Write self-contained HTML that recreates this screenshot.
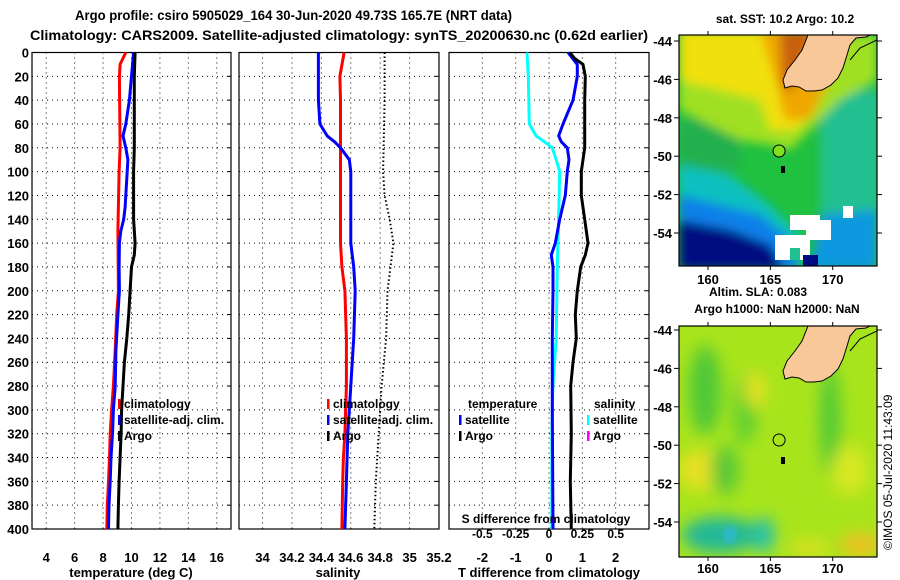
<!DOCTYPE html>
<html><head><meta charset="utf-8"><style>
html,body{margin:0;padding:0;background:#fff;}
svg{display:block;font-family:"Liberation Sans",Arial,sans-serif;font-weight:bold;}
</style></head><body>
<svg id="fig" width="900" height="580" viewBox="0 0 900 580" xmlns="http://www.w3.org/2000/svg">
<defs>
<filter id="blur4" x="-10%" y="-10%" width="120%" height="120%"><feGaussianBlur stdDeviation="5"/></filter>
<filter id="blur8" x="-20%" y="-20%" width="140%" height="140%"><feGaussianBlur stdDeviation="8"/></filter>
<clipPath id="clipMap1"><rect x="679" y="35" width="198" height="231"/></clipPath>
<clipPath id="clipMap2"><rect x="679" y="326" width="198" height="231"/></clipPath>
</defs>
<text x="75" y="20" font-size="14" textLength="437" lengthAdjust="spacingAndGlyphs">Argo profile: csiro 5905029_164 30-Jun-2020 49.73S 165.7E (NRT data)</text>
<text x="30" y="40" font-size="14" textLength="618" lengthAdjust="spacingAndGlyphs">Climatology: CARS2009. Satellite-adjusted climatology: synTS_20200630.nc (0.62d earlier)</text>
<g id="charts"></g>
<g id="maps"></g>
</svg>
<script>
// ---- data ----
const depthTicks = [0,20,40,60,80,100,120,140,160,180,200,220,240,260,280,300,320,340,360,380,400];
const tempTicks = [4,6,8,10,12,14,16];
const salTicks = [34,34.2,34.4,34.6,34.8,35,35.2];
const tdiffTicks = [-2,-1,0,1,2];
const sdiffTicks = [-0.5,-0.25,0,0.25,0.5];

const climTDepth = [0,10,20,80,100,150,200,220,250,280,300,320,340,360,380,400];
const climT =      [9.6,9.2,9.15,9.2,9.13,9.04,9.08,8.96,8.85,8.73,8.6,8.5,8.45,8.38,8.3,8.26];
const satTDepth = [0,20,40,60,70,80,90,100,130,140,150,160,180,200,220,250,280,300,320,340,360,380,400];
const satT =      [10.15,10.0,9.85,9.6,9.4,9.6,9.75,9.7,9.55,9.45,9.25,9.15,9.13,9.15,9.04,8.9,8.85,8.73,8.66,8.56,8.5,8.42,8.38];
const argoTDepth = [0,20,80,100,140,160,170,180,200,220,240,260,280,300,320,340,360,380,400];
const argoT =      [10.25,10.2,10.2,10.15,10.15,10.25,10.2,10.0,9.9,9.8,9.67,9.5,9.4,9.3,9.27,9.2,9.13,9.08,9.04];

const climSDepth = [0,20,40,80,160,180,200,240,280,320,340,360,400];
const climS =      [34.555,34.526,34.53,34.53,34.53,34.54,34.56,34.57,34.57,34.56,34.55,34.545,34.54];
const satSDepth = [0,40,60,70,75,80,90,100,160,180,200,240,280,320,360,400];
const satS =      [34.38,34.38,34.39,34.44,34.49,34.53,34.59,34.6,34.6,34.62,34.63,34.62,34.6,34.58,34.57,34.56];
const argoSDepth = [0,40,100,120,140,160,180,200,240,280,320,360,400];
const argoS =      [34.83,34.83,34.82,34.83,34.865,34.89,34.87,34.85,34.84,34.81,34.79,34.77,34.76];

const dTsatDepth = [0,10,20,40,60,70,75,80,90,100,120,140,160,170,180,200,240,300,400];
const dTsat =      [0.57,0.85,0.85,0.72,0.42,0.29,0.37,0.55,0.6,0.55,0.49,0.32,0.19,0.07,0.12,0.12,0.1,0.1,0.12];
const dTargoDepth = [0,5,10,20,40,80,100,120,140,160,170,180,200,220,240,260,280,320,360,400];
const dTargo =      [0.62,0.77,1.02,1.09,1.07,1.07,0.97,0.97,1.07,1.17,1.09,0.95,0.85,0.79,0.82,0.72,0.65,0.67,0.64,0.67];
const dSsatDepth = [0,20,60,70,75,80,90,100,140,160,180,240,260,280,320,400];
const dSsat =      [-0.165,-0.155,-0.148,-0.097,-0.034,0.024,0.054,0.08,0.072,0.067,0.062,0.054,0.042,0.029,0.021,0.021];

// ---- helpers ----
const NS='http://www.w3.org/2000/svg';
function mk(tag, attrs, parent, text){
  const e=document.createElementNS(NS,tag);
  for(const k in attrs) e.setAttribute(k,attrs[k]);
  if(text!==undefined) e.textContent=text;
  parent.appendChild(e); return e;
}
const charts=document.getElementById('charts');
const Y0=52.5, Y1=529;
const yScale = d => Y0 + d/400*(Y1-Y0);

function panel(name, x0, x1, dmin, dmax, xticks, fmt, showY){
  const g=mk('g',{},charts);
  
  
  const xs = v => x0 + (v-dmin)/(dmax-dmin)*(x1-x0);
  depthTicks.forEach(d=>{
    if(d===0||d===400) return;
    const l=mk('line',{x1:x0,x2:x1,y1:yScale(d),y2:yScale(d),stroke:'#000','stroke-width':1,'stroke-dasharray':'1 4'},g);
    
    
  });
  xticks.forEach(v=>{
    const x=xs(v); if(x<=x0+1||x>=x1-1) return;
    const l=mk('line',{x1:x,x2:x,y1:Y0,y2:Y1,stroke:'#000','stroke-width':1,'stroke-dasharray':'1 4'},g);
    
    
  });
  const r=mk('rect',{x:x0,y:Y0,width:x1-x0,height:Y1-Y0,fill:'none',stroke:'#000','stroke-width':1.2},g);
  
  
  xticks.forEach(v=>{
    const t=mk('text',{x:xs(v),y:562,'font-size':13,'text-anchor':'middle'},g,fmt(v));
    
    
  });
  if(showY){
    depthTicks.forEach(d=>{
      const t=mk('text',{x:x0-3,y:yScale(d)+5,'font-size':13,'text-anchor':'end'},g,String(d));
      
      
    });
  }
  depthTicks.forEach(d=>{
    mk('line',{x1:x1-4,x2:x1,y1:yScale(d),y2:yScale(d),stroke:'#000'},g);
  });
  return {g,xs};
}
function line(p, xsf, vals, depths, color, name, width, dash){
  const pts=vals.map((v,i)=>xsf(v).toFixed(1)+','+yScale(depths[i]).toFixed(1)).join(' ');
  const a={points:pts,fill:'none',stroke:color,'stroke-width':width||3,'stroke-linejoin':'round'};
  if(dash) a['stroke-dasharray']=dash;
  const e=mk('polyline',a,p);
  
  
}
function legend(p, x, y, color, label, name){
  const g=mk('g',{},p);
  
  
  mk('rect',{x:x,y:y-9,width:2.5,height:10,fill:color},g);
  mk('text',{x:x+6,y:y,'font-size':12},g,label);
}

const P1=panel('temperature-panel',32,231,3,17,tempTicks,v=>String(v),true);
line(P1.g,P1.xs,climT,climTDepth,'#ff0000','climatology-temperature-line');
line(P1.g,P1.xs,satT,satTDepth,'#0000ff','satellite-temperature-line');
line(P1.g,P1.xs,argoT,argoTDepth,'#000000','argo-temperature-line');
legend(P1.g,118,408,'#ff0000','climatology','legend-climatology');
legend(P1.g,118,424,'#0000ff','satellite-adj. clim.','legend-satellite');
legend(P1.g,118,440,'#000000','Argo','legend-argo');
mk('text',{x:131,y:577,'font-size':13,'text-anchor':'middle',},P1.g,'temperature (deg C)');

const P2=panel('salinity-panel',239,439,33.84,35.2,salTicks,v=>(v===34||v===35)?String(v):v.toFixed(1),false);
line(P2.g,P2.xs,climS,climSDepth,'#ff0000','climatology-salinity-line');
line(P2.g,P2.xs,satS,satSDepth,'#0000ff','satellite-salinity-line');
line(P2.g,P2.xs,argoS,argoSDepth,'#000000','argo-salinity-line',2,'1.5 2.5');
legend(P2.g,327,408,'#ff0000','climatology','legend-climatology-s');
legend(P2.g,327,424,'#0000ff','satellite-adj. clim.','legend-satellite-s');
legend(P2.g,327,440,'#000000','Argo','legend-argo-s');
mk('text',{x:338,y:577,'font-size':13,'text-anchor':'middle',},P2.g,'salinity');

const P3=panel('difference-panel',449,649,-3,3,tdiffTicks,v=>String(v),false);
const sxs = v => P3.xs(v*4);
line(P3.g,sxs,dSsat,dSsatDepth,'#00ffff','salinity-diff-satellite-line');
line(P3.g,P3.xs,dTsat,dTsatDepth,'#0000ff','temperature-diff-satellite-line');
line(P3.g,P3.xs,dTargo,dTargoDepth,'#000000','temperature-diff-argo-line');
mk('text',{x:468,y:408,'font-size':12,},P3.g,'temperature');
mk('text',{x:594,y:408,'font-size':12,},P3.g,'salinity');
legend(P3.g,459,424,'#0000ff','satellite','legend-t-satellite');
legend(P3.g,459,440,'#000000','Argo','legend-t-argo');
legend(P3.g,587,424,'#00ffff','satellite','legend-s-satellite');
legend(P3.g,587,440,'#ff00ff','Argo','legend-s-argo');
mk('text',{x:546,y:523,'font-size':12,'text-anchor':'middle',},P3.g,'S difference from climatology');
sdiffTicks.forEach(v=>{
  const t=mk('text',{x:sxs(v),y:538,'font-size':12,'text-anchor':'middle'},P3.g,String(v));
  
  
});
mk('text',{x:549,y:577,'font-size':13,'text-anchor':'middle',},P3.g,'T difference from climatology');

// ---- maps ----
const maps=document.getElementById('maps');
const latTicks=[-44,-46,-48,-50,-52,-54];
const lonTicks=[160,165,170];
function mapFrame(name, top, latTop44y){
  const g=mk('g',{},maps);
  
  
  const lonX = lon => 708 + (lon-160)*12.47;
  const latY = lat => latTop44y + (-44-lat)*19.2;
  return {g,lonX,latY,top};
}
const land = (dy)=>`M808,${35+dy} L802,${50+dy} L795,${60+dy} L787,${70+dy} L783,${80+dy} L785,${88+dy} L792,${86+dy} L799,${87+dy} L806,${91+dy} L814,${91+dy} L822,${90+dy} L831,${85+dy} L838,${78+dy} L843,${68+dy} L847,${55+dy} L850,${45+dy} L856,${38+dy} L866,${37+dy} L870,${35+dy} Z`;

const M1=mapFrame('sst-map',35,41);
{
  const c=mk('g',{'clip-path':'url(#clipMap1)'},M1.g);
  mk('rect',{x:679,y:35,width:198,height:231,fill:'#20c040'},c);
  const b=mk('g',{filter:'url(#blur4)'},c);
  mk('rect',{x:820,y:90,width:60,height:130,fill:'#20c090'},b);
  mk('rect',{x:679,y:120,width:60,height:50,fill:'#20b050'},b);
  mk('polygon',{points:'679,35 877,35 877,80 840,100 810,130 790,150 770,145 740,140 700,120 679,110',fill:'#a0e020'},b);
  mk('polygon',{points:'679,30 820,30 830,60 815,110 795,130 770,130 760,100 720,90 679,80',fill:'#f0e010'},b);
  mk('polygon',{points:'760,30 830,30 830,80 810,120 785,120 775,80',fill:'#f0a800'},b);
  mk('polygon',{points:'780,30 815,30 800,70 790,95 782,80',fill:'#c86010'},b);
  mk('polygon',{points:'679,165 730,175 770,205 800,235 800,270 679,270',fill:'#10c0c0'},b);
  mk('polygon',{points:'679,195 720,205 760,215 790,240 800,270 679,270',fill:'#1080e8'},b);
  mk('polygon',{points:'679,220 730,230 770,245 785,270 679,270',fill:'#000a80'},b);
  mk('polygon',{points:'820,215 877,210 877,270 810,270',fill:'#1098e0'},b);
  mk('rect',{x:790,y:215,width:30,height:15,fill:'#ffffff'},c);
  mk('rect',{x:806,y:220,width:25,height:20,fill:'#ffffff'},c);
  mk('rect',{x:775,y:235,width:35,height:25,fill:'#ffffff'},c);
  mk('rect',{x:843,y:206,width:10,height:12,fill:'#ffffff'},c);
  mk('rect',{x:790,y:248,width:10,height:12,fill:'#20c090'},c);
  mk('rect',{x:803,y:255,width:15,height:11,fill:'#000a80'},c);
  mk('path',{d:land(0),fill:'#f8c898',stroke:'#000','stroke-width':1},c);
  mk('path',{d:'M850,60 L860,48 L877,40',fill:'none',stroke:'#000'},c);
  mk('circle',{cx:M1.lonX(165.7),cy:M1.latY(-49.73),r:6,fill:'#80e020',stroke:'#000','stroke-width':1},c);
  mk('rect',{x:781,y:166,width:4,height:7,fill:'#000'},c);
}
const M2=mapFrame('sla-map',326,330);
{
  const c=mk('g',{'clip-path':'url(#clipMap2)'},M2.g);
  mk('rect',{x:679,y:326,width:198,height:231,fill:'#a8e41c'},c);
  const b=mk('g',{filter:'url(#blur8)'},c);
  mk('ellipse',{cx:705,cy:390,rx:16,ry:45,fill:'#50c838'},b);
  mk('ellipse',{cx:745,cy:410,rx:12,ry:35,fill:'#60d030'},b);
  mk('ellipse',{cx:755,cy:390,rx:10,ry:18,fill:'#e8e020'},b);
  mk('ellipse',{cx:830,cy:420,rx:10,ry:55,fill:'#50c838'},b);
  mk('ellipse',{cx:700,cy:470,rx:22,ry:20,fill:'#e8e020'},b);
  mk('ellipse',{cx:725,cy:470,rx:14,ry:25,fill:'#58c838'},b);
  mk('ellipse',{cx:850,cy:470,rx:18,ry:25,fill:'#d8e820'},b);
  mk('ellipse',{cx:720,cy:535,rx:38,ry:18,fill:'#20b898'},b);
  mk('ellipse',{cx:764,cy:535,rx:10,ry:18,fill:'#20c0b0'},b);
  mk('ellipse',{cx:860,cy:545,rx:20,ry:12,fill:'#f0c020'},b);
  mk('ellipse',{cx:810,cy:548,rx:20,ry:8,fill:'#e0e020'},b);
  mk('ellipse',{cx:730,cy:535,rx:6,ry:8,fill:'#30b8e8'},c).setAttribute('filter','url(#blur4)');
  mk('path',{d:land(291),fill:'#f8c898',stroke:'#000','stroke-width':1},c);
  mk('path',{d:'M850,351 L860,339 L877,331',fill:'none',stroke:'#000'},c);
  mk('circle',{cx:M2.lonX(165.7),cy:M2.latY(-49.73),r:6,fill:'none',stroke:'#000','stroke-width':1},c);
  mk('rect',{x:781,y:457,width:4,height:7,fill:'#000'},c);
}
[[M1,35,41,284],[M2,326,330,573]].forEach(([M,top,l44,ly])=>{
  mk('rect',{x:679,y:top,width:198,height:231,fill:'none',stroke:'#000','stroke-width':1.2},M.g);
  latTicks.forEach(lat=>{
    const y=M.latY(lat);
    mk('line',{x1:679,x2:674,y1:y,y2:y,stroke:'#000'},M.g);
    mk('line',{x1:877,x2:882,y1:y,y2:y,stroke:'#000'},M.g);
    const t=mk('text',{x:672,y:y+5,'font-size':13,'text-anchor':'end'},M.g,String(lat));
    
    
  });
  lonTicks.forEach(lon=>{
    const x=M.lonX(lon);
    mk('line',{x1:x,x2:x,y1:top,y2:top-4,stroke:'#000'},M.g);
    mk('line',{x1:x,x2:x,y1:top+231,y2:top+235,stroke:'#000'},M.g);
    const t=mk('text',{x:x,y:ly,'font-size':13,'text-anchor':'middle'},M.g,String(lon));
    
    
  });
});
mk('text',{x:785,y:23,'font-size':12,'text-anchor':'middle',},maps,'sat. SST: 10.2 Argo: 10.2');
mk('text',{x:758,y:296,'font-size':12,'text-anchor':'middle',},maps,'Altim. SLA: 0.083');
mk('text',{x:777,y:313,'font-size':12,'text-anchor':'middle',},maps,'Argo h1000: NaN h2000: NaN');
mk('text',{x:892,y:550,'font-size':12,'font-weight':'normal',transform:'rotate(-90 892 550)',},maps,'©IMOS 05-Jul-2020 11:43:09');
</script>
</body></html>
